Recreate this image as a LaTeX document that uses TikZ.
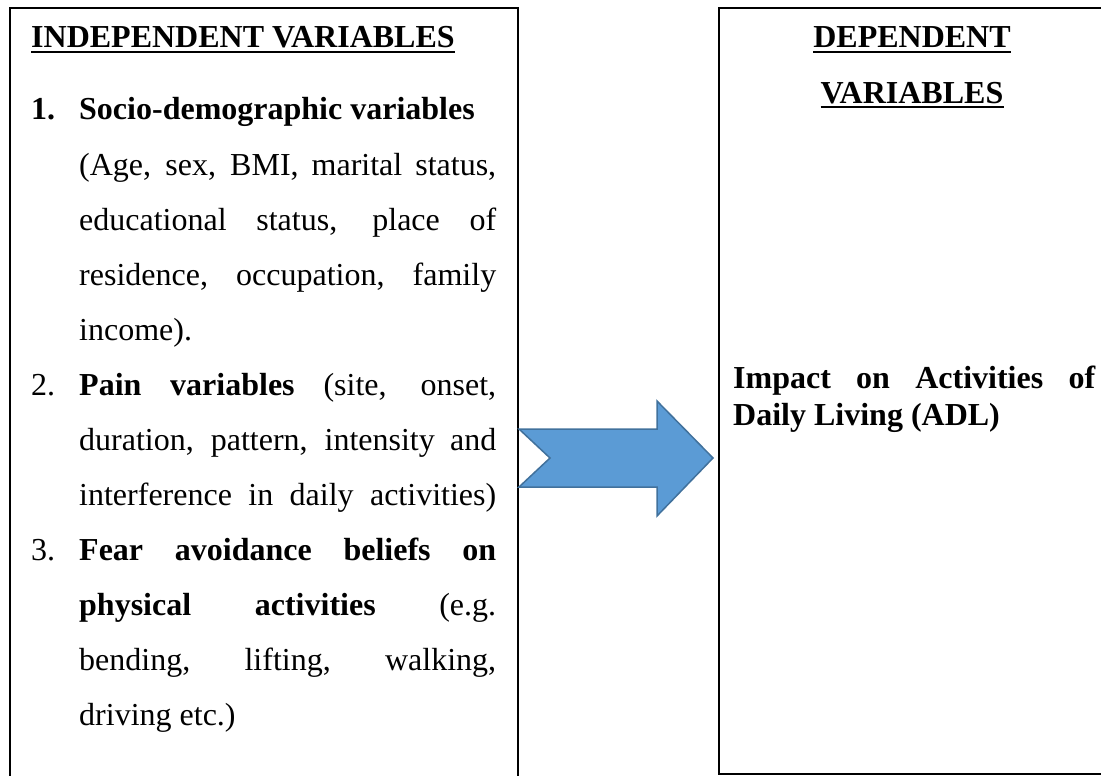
\documentclass[tikz,border=0pt]{standalone}
\usepackage{fontspec}
\setmainfont{Liberation Serif}
\definecolor{arrowfill}{HTML}{5B9BD5}
\definecolor{arrowdraw}{HTML}{41719C}
\newcommand\bodyfs{\fontsize{32}{37}\selectfont}
\newcommand\jline[1]{\makebox[417pt][s]{#1}}
\begin{document}
\begin{tikzpicture}[x=1pt,y=-1pt,
  txt/.style={anchor=base west,inner sep=0pt,font=\bodyfs},
  btxt/.style={anchor=base west,inner sep=0pt,font=\bodyfs\bfseries},
  ctitle/.style={anchor=base,inner sep=0pt,font=\bodyfs\bfseries},
  boxline/.style={draw=black,line width=1.9pt},
  uline/.style={line width=2.6pt},
  bigarrow/.style={fill=arrowfill,draw=arrowdraw,line width=1.5pt,line join=miter}]
\useasboundingbox (0,0) rectangle (1101,776);
\clip (0,0) rectangle (1101,776);
% boxes
\draw[boxline] (10,800) -- (10,8) -- (518,8) -- (518,800);
\draw[boxline] (1130,774) -- (719,774) -- (719,8) -- (1130,8);
% arrow
\draw[bigarrow] (519,429) -- (657,429) -- (657,401) -- (713,458) -- (657,516)
  -- (657,487) -- (519,487) -- (550,458) -- cycle;
% left box
\node[btxt] (ttl) at (31,48) {INDEPENDENT VARIABLES};
\draw[uline] ([yshift=-4pt]ttl.base west) -- ([yshift=-4pt]ttl.base east);
\node[btxt] (n1) at (31,120) {1.};
\node[btxt] (a1) at (79,120) {Socio-demographic variables};
\node[txt] (a2) at (79,175) {\jline{(Age, sex, BMI, marital status,}};
\node[txt] (a3) at (79,230) {\jline{educational status, place of}};
\node[txt] (a4) at (79,285) {\jline{residence, occupation, family}};
\node[txt] (a5) at (79,340) {income).};
\node[txt] (n2) at (31,395) {2.};
\node[txt] (b1) at (79,395) {\jline{\textbf{Pain variables} (site, onset,}};
\node[txt] (b2) at (79,450) {\jline{duration, pattern, intensity and}};
\node[txt] (b3) at (79,505) {\jline{interference in daily activities)}};
\node[txt] (n3) at (31,560) {3.};
\node[txt] (c1) at (79,560) {\jline{\textbf{Fear avoidance beliefs on}}};
\node[txt] (c2) at (79,615) {\jline{\textbf{physical activities} (e.g.}};
\node[txt] (c3) at (79,670) {\jline{bending, lifting, walking,}};
\node[txt] (c4) at (79,725) {driving etc.)};
% right box
\node[ctitle] (dt1) at (912,48) {DEPENDENT};
\draw[uline] ([yshift=-4pt]dt1.base west) -- ([yshift=-4pt]dt1.base east);
\node[ctitle] (dt2) at (912,103) {VARIABLES};
\draw[uline] ([yshift=-4pt]dt2.base west) -- ([yshift=-4pt]dt2.base east);
\node[btxt] (d1) at (733,388) {\makebox[362pt][s]{Impact on Activities of}};
\node[btxt] (d2) at (733,425) {Daily Living (ADL)};
\end{tikzpicture}
\end{document}
